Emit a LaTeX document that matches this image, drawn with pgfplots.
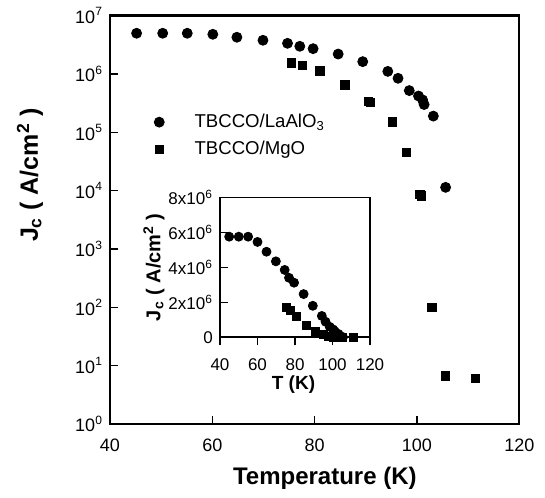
\documentclass[border=0pt]{standalone}
\usepackage{fontspec}
\setmainfont{Liberation Sans}
\usepackage{pgfplots}
\pgfplotsset{compat=1.18}

\begin{document}
\begin{tikzpicture}
% main log plot
\begin{axis}[
  at={(0,0)}, anchor=south west,
  scale only axis, width=204.65pt, height=204.15pt,
  ymode=log, xmin=40, xmax=120, ymin=1, ymax=1e7,
  xtick={40,60,80,100,120}, xticklabels={40,60,80,100,120},
  ytick={1,10,100,1000,1e4,1e5,1e6,1e7},
  yticklabels={10\textsuperscript{0},10\textsuperscript{1},10\textsuperscript{2},10\textsuperscript{3},10\textsuperscript{4},10\textsuperscript{5},10\textsuperscript{6},10\textsuperscript{7}},
  yminorticks=false,
  tick pos=left, tick align=inside, major tick length=4pt,
  tick style={line width=0.8pt, black},
  axis line style={line width=1.2pt},
  tick label style={font=\fontsize{9}{10}\selectfont},
  xticklabel style={yshift=-4pt},
  xlabel={\textbf{Temperature (K)}},
  ylabel={\textbf{J\textsubscript{c} ( A/cm\textsuperscript{2} )}},
  xlabel style={font=\fontsize{12}{14}\selectfont, at={(axis description cs:0.525,0)}, anchor=center, yshift=-27pt},
  ylabel style={font=\fontsize{12.5}{14}\selectfont, at={(axis description cs:0,0.61)}, anchor=center, yshift=40pt},
  legend style={at={(rel axis cs:0.063,0.78)}, anchor=north west, draw=none, fill=none,
    font=\fontsize{9.3}{11}\selectfont, row sep=1.5pt},
  legend cell align=left,
  legend image code/.code={\draw[#1] plot coordinates {(0.3cm,0cm)}; \path[draw=none] (0cm,0cm) -- (0.85cm,0cm);},
]
\addplot[only marks, mark=*, mark size=2.5pt, black] coordinates {
  (45.2,5.0e6) (50.3,5.0e6) (55.1,5.0e6) (60.1,4.8e6) (64.8,4.27e6)
  (69.9,3.79e6) (74.7,3.36e6) (77.1,2.99e6) (79.7,2.72e6) (84.6,2.20e6)
  (89.4,1.63e6) (94.3,1.11e6) (96.3,8.45e5) (98.5,5.2e5) (100.3,4.2e5)
  (101.1,3.6e5) (101.4,3.0e5) (103.2,1.9e5) (105.6,1.14e4)
};
\addlegendentry{TBCCO/LaAlO\textsubscript{3}}
\addplot[only marks, mark=square*, mark size=2.1pt, black] coordinates {
  (75.4,1.56e6) (77.6,1.41e6) (81.0,1.13e6) (85.9,6.5e5) (90.5,3.4e5) (90.9,3.3e5)
  (95.2,1.52e5) (97.9,4.5e4) (100.6,8.7e3) (100.9,8.1e3) (102.9,1.0e2)
  (105.5,6.7) (111.4,6.1)
};
\addlegendentry{TBCCO/MgO}
\end{axis}

% inset linear plot
\begin{axis}[
  at={(55pt,43.35pt)}, anchor=south west,
  scale only axis, width=75pt, height=70pt,
  xmin=40, xmax=120, ymin=0, ymax=8e6,
  xtick={40,60,80,100,120}, xticklabels={40,60,80,100,120},
  ytick={0,2e6,4e6,6e6,8e6},
  yticklabels={0,2x10\textsuperscript{6},4x10\textsuperscript{6},6x10\textsuperscript{6},8x10\textsuperscript{6}},
  scaled y ticks=false,
  xtick align=outside, ytick align=inside, xtick pos=bottom, ytick pos=left,
  major tick length=4pt,
  tick style={line width=0.7pt, black},
  axis line style={line width=0.8pt},
  tick label style={font=\fontsize{8.5}{10}\selectfont},
  xticklabel style={yshift=-3pt},
  xlabel={\textbf{T (K)}},
  ylabel={\textbf{J\textsubscript{c} ( A/cm\textsuperscript{2} )}},
  xlabel style={font=\fontsize{9.5}{11}\selectfont, at={(axis description cs:0.49,0)}, anchor=center, yshift=-23.5pt},
  ylabel style={font=\fontsize{10}{12}\selectfont, at={(axis description cs:0,0.5)}, anchor=center, yshift=33pt},
]
\addplot[only marks, mark=*, mark size=2.25pt, black] coordinates {
  (44.9,5.75e6) (50,5.75e6) (55,5.75e6) (60,5.45e6) (64.8,4.89e6)
  (69.8,4.34e6) (74.5,3.85e6) (76.8,3.4e6) (79.5,3.12e6) (84.6,2.47e6)
  (89.5,1.8e6) (94.3,1.22e6) (96.3,8.9e5) (98.5,6.0e5) (100.3,4.5e5)
  (101.1,3.5e5) (101.4,3.0e5) (103.2,1.9e5) (105.6,1.0e4)
};
\addplot[only marks, mark=square*, mark size=2pt, black] coordinates {
  (75.4,1.71e6) (77.6,1.52e6) (81.0,1.18e6) (85.9,7.0e5) (90.7,3.2e5)
  (95.2,1.5e5) (97.9,4.5e4) (100.6,8.7e3) (100.9,8.1e3) (102.9,1.0e2)
  (105.5,7) (111.4,6)
};
\end{axis}

\pgfresetboundingbox
\path[use as bounding box] (-55pt,-36.5pt) rectangle (217.5pt,212pt);
\end{tikzpicture}
\end{document}
